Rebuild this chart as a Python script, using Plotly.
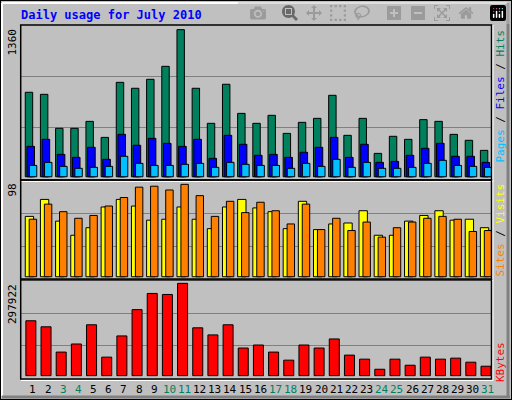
import plotly.graph_objects as go
from plotly.subplots import make_subplots

days = list(range(1, 32))
weekend = [3, 4, 10, 11, 17, 18, 24, 25, 31]

hits = [781, 762, 448, 448, 512, 364, 873, 818, 901, 1021, 1360, 818, 494, 855, 586, 494,
        568, 401, 503, 540, 753, 383, 540, 216, 374, 346, 528, 512, 392, 337, 244]
files = [281, 346, 207, 179, 272, 161, 392, 291, 355, 309, 281, 346, 170, 383, 300, 198,
         207, 179, 226, 272, 364, 179, 300, 133, 142, 198, 263, 309, 189, 189, 133]
pages = [105, 133, 96, 78, 87, 96, 189, 124, 105, 105, 115, 124, 87, 133, 115, 105,
         105, 78, 124, 96, 161, 87, 133, 78, 78, 87, 124, 152, 105, 96, 87]
visits = [64, 82, 59, 44, 52, 74, 82, 75, 60, 61, 74, 61, 51, 74, 82, 73,
          69, 51, 80, 50, 56, 57, 70, 44, 44, 59, 65, 70, 60, 61, 52]
sites = [61, 77, 69, 62, 65, 75, 84, 95, 96, 92, 98, 86, 64, 80, 68, 79,
         70, 56, 77, 50, 62, 49, 58, 42, 52, 58, 62, 64, 61, 48, 49]
kbytes = [177226, 157654, 76111, 102207, 164180, 59801, 128301, 213111, 265301, 262039,
          297922, 154393, 131563, 164180, 89158, 98944, 76111, 50015, 98944, 89158,
          118515, 66325, 53278, 20659, 53278, 33706, 59801, 53278, 56540, 43492, 30445]

W, H = 512, 400
def px(x):
    return x / W
def py(y):
    return 1 - y / H

mono = "DejaVu Sans Mono"
fig = make_subplots(rows=3, cols=1, shared_xaxes=True)

def bar(vals, color, off, w, row):
    fig.add_trace(go.Bar(x=days, y=vals, offset=off, width=w, marker_color=color,
                         marker_line=dict(color="black", width=1)), row=row, col=1)

bar(hits, "#00805C", -0.2, 0.49, 1)
bar(files, "#0000FF", -0.09, 0.5, 1)
bar(pages, "#00C0FF", 0.07, 0.49, 1)
bar(visits, "#FFFF00", -0.2, 0.55, 2)
bar(sites, "#FF8000", 0.06, 0.49, 2)
bar(kbytes, "#FF0000", -0.16, 0.66, 3)

xdom = [px(20.7), px(491)]
panels = [([py(180), py(25)], [-30, 1403], [457, 925]),
          ([py(279), py(180)], [-2.4, 102.6], [32.2, 67.2]),
          ([py(379), py(279)], [-10756, 311940], [95830, 202090])]
for i, (dom, rng, grid) in enumerate(panels, start=1):
    fig.update_yaxes(domain=dom, range=rng, tickvals=grid, showticklabels=False,
                     gridcolor="#808080", gridwidth=1, zeroline=False, row=i, col=1)
    fig.update_xaxes(domain=xdom, range=[0.5, 31.5], showticklabels=False,
                     showgrid=False, zeroline=False, row=i, col=1)

shapes = [
    dict(type="rect", xref="paper", yref="paper", x0=0, x1=1, y0=0, y1=1,
         line=dict(color="black", width=2)),
    dict(type="line", xref="paper", yref="paper", x0=px(2), x1=px(507), y0=py(3), y1=py(3),
         line=dict(color="white", width=2)),
    dict(type="line", xref="paper", yref="paper", x0=px(2), x1=px(2), y0=py(3), y1=py(396),
         line=dict(color="white", width=2)),
    dict(type="line", xref="paper", yref="paper", x0=px(2), x1=px(510), y0=py(397), y1=py(397),
         line=dict(color="#808080", width=3)),
    dict(type="line", xref="paper", yref="paper", x0=px(508), x1=px(508), y0=py(3), y1=py(397),
         line=dict(color="#808080", width=3)),
]
for top, bot in [(25, 180), (180, 279), (280, 379)]:
    shapes.append(dict(type="rect", xref="paper", yref="paper", x0=px(20.7), x1=px(491.5),
                       y0=py(bot), y1=py(top), line=dict(color="black", width=1.5)))
    shapes.append(dict(type="line", xref="paper", yref="paper", x0=px(20.7), x1=px(493),
                       y0=py(bot + 1.5), y1=py(bot + 1.5), line=dict(color="white", width=1)))
    shapes.append(dict(type="line", xref="paper", yref="paper", x0=px(493), x1=px(493),
                       y0=py(bot + 1.5), y1=py(top), line=dict(color="white", width=1)))

ann = [dict(x=px(19), y=py(15), xref="paper", yref="paper", xanchor="left", yanchor="middle",
            text="<b>Daily usage for July 2010</b>", showarrow=False,
            font=dict(family=mono, size=12, color="#0000FF"))]
for label, ytop in [("1360", 27), ("98", 182), ("297922", 282)]:
    ann.append(dict(x=px(12), y=py(ytop), xref="paper", yref="paper", xanchor="center",
                    yanchor="top", text=label, textangle=-90, showarrow=False,
                    font=dict(family=mono, size=11, color="black")))
right = [
    ('<span style="color:#00C0FF">Pages</span> / <span style="color:#0000FF">Files</span>'
     ' / <span style="color:#00805C">Hits</span>', 28),
    ('<span style="color:#FF8000">Sites</span> / <span style="color:#FFFF00">Visits</span>', 182),
    ('<span style="color:#FF0000">KBytes</span>', 340),
]
for text, ytop in right:
    ann.append(dict(x=px(500), y=py(ytop), xref="paper", yref="paper", xanchor="center",
                    yanchor="top", text=text, textangle=-90, showarrow=False,
                    font=dict(family=mono, size=11, color="black")))
for d in days:
    ann.append(dict(x=d + 0.3, y=py(389), xref="x3", yref="paper", xanchor="center",
                    yanchor="middle", text=str(d), showarrow=False,
                    font=dict(family=mono, size=11,
                              color="#00805C" if d in weekend else "black")))

fig.update_layout(width=W, height=H, margin=dict(l=0, r=0, t=0, b=0),
                  paper_bgcolor="#C0C0C0", plot_bgcolor="#C0C0C0", barmode="overlay",
                  showlegend=False, shapes=shapes, annotations=ann)
fig.write_html("out.html", post_script="document.body.style.margin='0';")
